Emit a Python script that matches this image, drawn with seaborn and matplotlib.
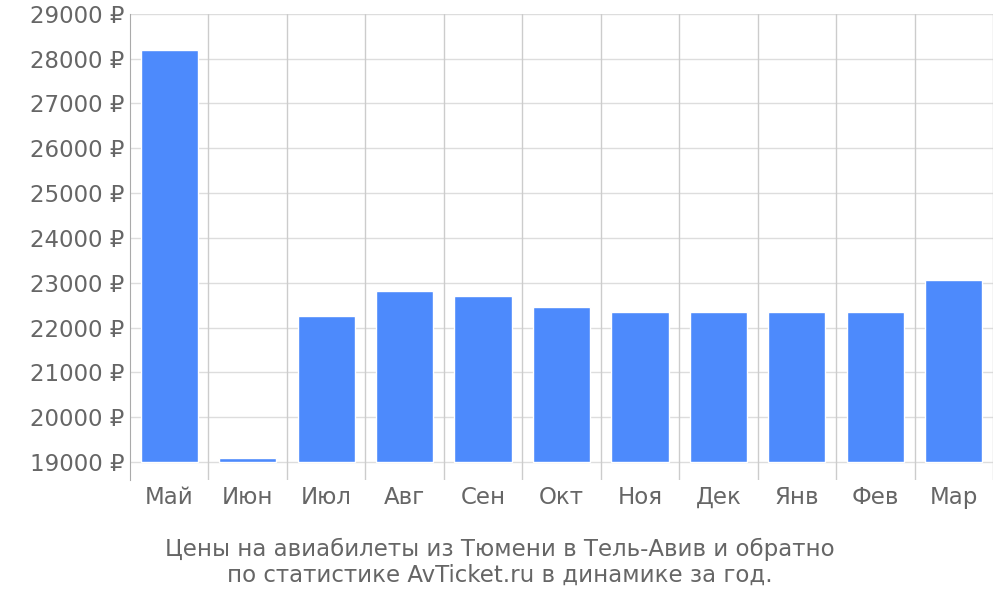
import matplotlib.pyplot as plt
import seaborn as sns
import numpy as np

months = ['Май', 'Июн', 'Июл', 'Авг', 'Сен', 'Окт', 'Ноя', 'Дек', 'Янв', 'Фев', 'Мар']
prices = [28200, 19100, 22250, 22820, 22700, 22460, 22350, 22350, 22350, 22350, 23060]
yticks = list(range(19000, 29001, 1000))
base = 19000

sns.set_style('white')
plt.rcParams['font.family'] = ['DejaVu Sans']

fig = plt.figure(figsize=(10, 6), dpi=100)
ax = fig.add_axes([0.13, 0.2, 0.863, 0.777])
sns.barplot(x=months, y=prices, color='#4d8afc', saturation=1, width=0.73, ax=ax, zorder=3)
# bars start at the 19000 baseline
for p in ax.patches:
    h = p.get_height()
    p.set_y(base)
    p.set_height(h - base)

ax.set_ylim(18600, 29000)
ax.set_xlim(-0.5, len(months) - 0.5)
ax.set_yticks(yticks)
ax.set_yticklabels([f'{v} ₽' for v in yticks], fontsize=16.5, color='#666666')
for y in yticks:
    ax.axhline(y, color='#dddddd', lw=1, zorder=1)
for x in np.arange(0.5, len(months), 1.0):
    ax.axvline(x, color='#cccccc', lw=1, zorder=1)
ax.tick_params(axis='x', length=0, labelsize=16.5, labelcolor='#666666', pad=4)
ax.tick_params(axis='y', length=0, pad=4)
for s in ['top', 'right', 'bottom']:
    ax.spines[s].set_visible(False)
ax.spines['left'].set_color('#aaaaaa')

fig.text(0.5, 0.063, 'Цены на авиабилеты из Тюмени в Тель-Авив и обратно\nпо статистике AvTicket.ru в динамике за год.',
         ha='center', va='center', fontsize=16.5, color='#666666', linespacing=1.15)
fig.savefig('out.png')
